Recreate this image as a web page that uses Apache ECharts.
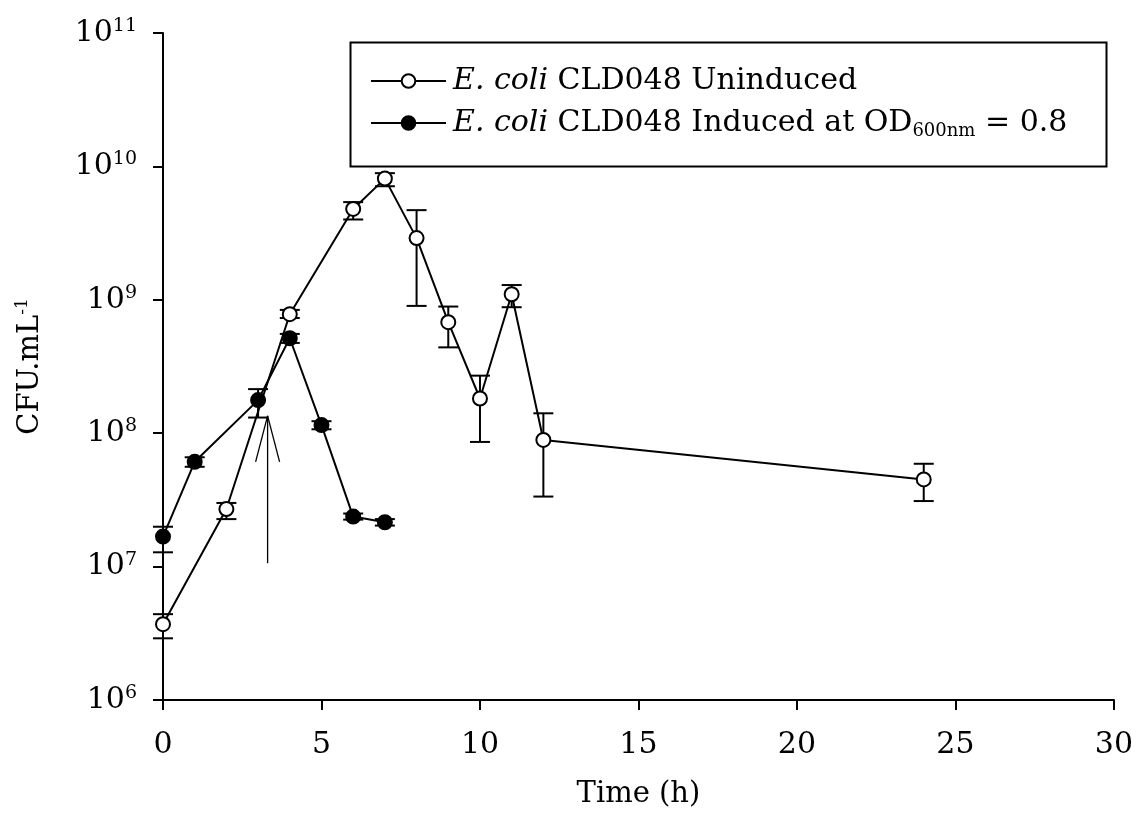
<!DOCTYPE html>
<html>
<head>
<meta charset="utf-8">
<script src="https://cdn.jsdelivr.net/npm/echarts@6/dist/echarts.min.js"></script>
<style>html,body{margin:0;padding:0;background:#fff}#c{width:1136px;height:820px}</style>
</head>
<body>
<div id="c"></div>
<script>
// ---- data ----
const uninducedT  = [0, 2, 4, 6, 7, 8, 9, 10, 11, 12, 24];
const uninducedV  = [3.7e6, 2.7e7, 7.8e8, 4.8e9, 8.1e9, 2.9e9, 6.8e8, 1.82e8, 1.1e9, 8.9e7, 4.5e7];
const uninducedLo = [2.9e6, 2.27e7, 7.3e8, 4.0e9, 7.1e9, 9.0e8, 4.4e8, 8.6e7, 8.8e8, 3.35e7, 3.1e7];
const uninducedHi = [4.4e6, 3.0e7, 8.4e8, 5.4e9, 8.9e9, 4.7e9, 8.9e8, 2.7e8, 1.29e9, 1.41e8, 5.9e7];

const inducedT  = [0, 1, 3, 4, 5, 6, 7];
const inducedV  = [1.68e7, 6.1e7, 1.77e8, 5.15e8, 1.15e8, 2.37e7, 2.15e7];
const inducedLo = [1.28e7, 5.6e7, 1.31e8, 4.75e8, 1.07e8, 2.25e7, 2.03e7];
const inducedHi = [1.99e7, 6.6e7, 2.14e8, 5.55e8, 1.23e8, 2.5e7, 2.27e7];

const arrowT = 3.3, arrowFrom = 1.06e7, arrowTo = 1.35e8;

const xTicks = {min: 0, max: 30, interval: 5};
const yTicks = {min: 1e6, max: 1e11};

const seriesNames = ['Uninduced', 'Induced'];

// ---- build ----
const FONT = 'DejaVu Serif';
const pts = (t, v) => t.map((x, i) => [x, v[i]]);
const errs = (t, lo, hi) => t.map((x, i) => [x, lo[i], hi[i]]);

function renderErr(params, api) {
  const x = api.value(0);
  const a = api.coord([x, api.value(1)]);
  const b = api.coord([x, api.value(2)]);
  const w = 10;
  const st = {stroke: '#000', lineWidth: 2};
  return {type: 'group', children: [
    {type: 'line', shape: {x1: a[0], y1: a[1], x2: b[0], y2: b[1]}, style: st},
    {type: 'line', shape: {x1: a[0] - w, y1: a[1], x2: a[0] + w, y2: a[1]}, style: st},
    {type: 'line', shape: {x1: b[0] - w, y1: b[1], x2: b[0] + w, y2: b[1]}, style: st}
  ]};
}
function renderArrow(params, api) {
  const x = api.value(0);
  const a = api.coord([x, api.value(1)]);
  const b = api.coord([x, api.value(2)]);
  const st = {stroke: '#000', lineWidth: 1.3};
  return {type: 'group', children: [
    {type: 'line', shape: {x1: a[0], y1: a[1], x2: b[0], y2: b[1]}, style: st},
    {type: 'line', shape: {x1: b[0], y1: b[1], x2: b[0] - 12, y2: b[1] + 46}, style: st},
    {type: 'line', shape: {x1: b[0], y1: b[1], x2: b[0] + 12, y2: b[1] + 46}, style: st}
  ]};
}

const chart = echarts.init(document.getElementById('c'), null, {renderer: 'canvas'});
chart.setOption({
  animation: false,
  backgroundColor: '#fff',
  grid: {left: 163, right: 21, top: 33, bottom: 120, containLabel: false},
  graphic: [{
    type: 'rect', left: 348, top: 40,
    shape: {width: 756, height: 124},
    style: {fill: 'none', stroke: '#000', lineWidth: 2}, z: 1
  }],
  legend: {
    left: 365, top: 61, orient: 'vertical',
    itemWidth: 75, itemHeight: 17, itemGap: 12,
    data: seriesNames,
    formatter: function (name) {
      return name === 'Uninduced'
        ? '{i|E. coli} CLD048 Uninduced'
        : '{i|E. coli} CLD048 Induced at OD{sub|600nm} = 0.8';
    },
    textStyle: {
      fontFamily: FONT, fontSize: 30, color: '#000', padding: [0, 0, 0, 2],
      rich: {
        i: {fontFamily: FONT, fontSize: 30, fontStyle: 'italic', color: '#000'},
        sub: {fontFamily: FONT, fontSize: 18, color: '#000', padding: [16, 0, 0, 0]}
      }
    }
  },
  xAxis: {
    type: 'value', min: xTicks.min, max: xTicks.max, interval: xTicks.interval,
    name: 'Time (h)', nameLocation: 'middle', nameGap: 80,
    nameTextStyle: {fontFamily: FONT, fontSize: 29, color: '#000'},
    axisLine: {lineStyle: {color: '#000', width: 2}},
    axisTick: {inside: false, length: 10, lineStyle: {color: '#000', width: 2}},
    axisLabel: {fontFamily: FONT, fontSize: 30, color: '#000', margin: 30},
    splitLine: {show: false}
  },
  yAxis: {
    type: 'log', logBase: 10, min: yTicks.min, max: yTicks.max,
    name: 'CFU.mL{sup|-1}', nameLocation: 'middle', nameGap: 116,
    nameTextStyle: {fontFamily: FONT, fontSize: 29, color: '#000',
      rich: {sup: {fontFamily: FONT, fontSize: 17, color: '#000', padding: [0, 0, 16, 0]}}},
    axisLine: {show: true, lineStyle: {color: '#000', width: 2}},
    axisTick: {inside: false, length: 10, lineStyle: {color: '#000', width: 2}},
    axisLabel: {
      fontFamily: FONT, fontSize: 30, color: '#000', margin: 26,
      formatter: v => '10{sup|' + Math.round(Math.log10(v)) + '}',
      rich: {sup: {fontFamily: FONT, fontSize: 19, color: '#000', padding: [0, 0, 14, 0]}}
    },
    splitLine: {show: false}, minorTick: {show: false}
  },
  series: [
    {type: 'custom', name: 'errU', renderItem: renderErr, data: errs(uninducedT, uninducedLo, uninducedHi),
     encode: {x: 0, y: [1, 2]}, z: 2, silent: true},
    {type: 'custom', name: 'errI', renderItem: renderErr, data: errs(inducedT, inducedLo, inducedHi),
     encode: {x: 0, y: [1, 2]}, z: 2, silent: true},
    {type: 'custom', name: 'arrow', renderItem: renderArrow, data: [[arrowT, arrowFrom, arrowTo]],
     encode: {x: 0, y: [1, 2]}, z: 2, silent: true},
    {type: 'line', name: 'Uninduced', data: pts(uninducedT, uninducedV), z: 3,
     symbol: 'circle', symbolSize: 14, showAllSymbol: true,
     lineStyle: {color: '#000', width: 2},
     itemStyle: {color: '#fff', borderColor: '#000', borderWidth: 2}},
    {type: 'line', name: 'Induced', data: pts(inducedT, inducedV), z: 4,
     symbol: 'circle', symbolSize: 14, showAllSymbol: true,
     lineStyle: {color: '#000', width: 2},
     itemStyle: {color: '#000', borderColor: '#000', borderWidth: 2}}
  ]
});
</script>
</body>
</html>
